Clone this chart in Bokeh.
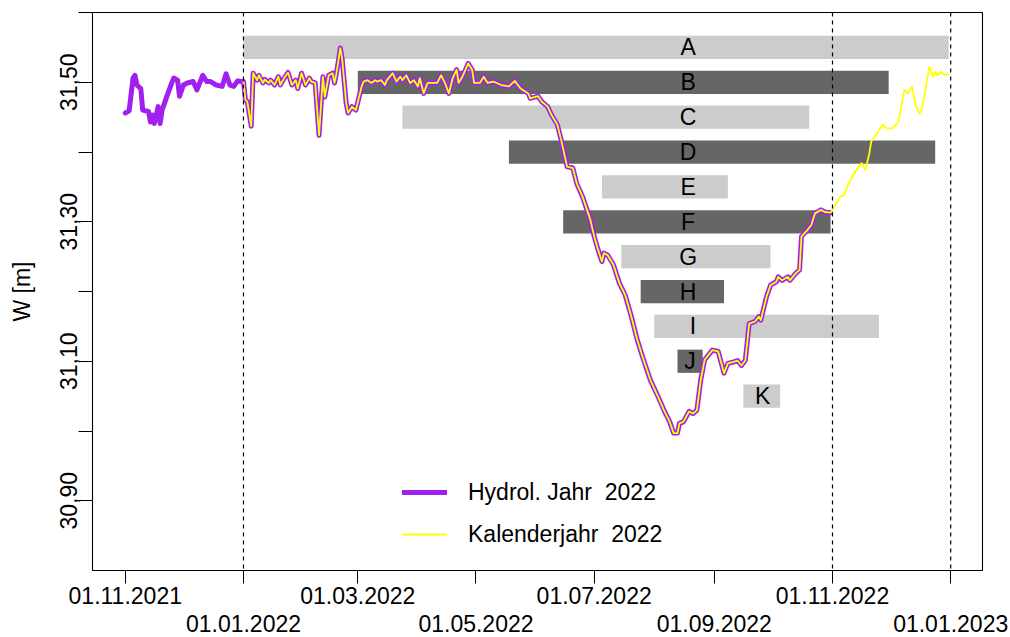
from datetime import datetime
import pandas as pd
from bokeh.plotting import figure
from bokeh.models import (ColumnDataSource, Range1d, FixedTicker, DatetimeAxis,
                          Span, Legend, LegendItem)
from bokeh.core.properties import value
from bokeh.embed import file_html
from bokeh.resources import INLINE

FONT = "Liberation Sans"

# ---------------- data ----------------
level_dates = [
    "2021-11-01", "2021-11-03", "2021-11-05", "2021-11-06", "2021-11-07", "2021-11-09",
    "2021-11-10", "2021-11-13", "2021-11-14", "2021-11-15", "2021-11-16", "2021-11-18",
    "2021-11-19", "2021-11-20", "2021-11-23", "2021-11-25", "2021-11-26", "2021-11-28",
    "2021-11-29", "2021-12-01", "2021-12-03", "2021-12-06", "2021-12-08", "2021-12-09",
    "2021-12-11", "2021-12-13", "2021-12-15", "2021-12-18", "2021-12-21", "2021-12-23",
    "2021-12-25", "2021-12-27", "2021-12-29", "2021-12-31",
    "2022-01-01", "2022-01-02", "2022-01-03", "2022-01-05", "2022-01-06", "2022-01-08",
    "2022-01-09", "2022-01-11", "2022-01-12", "2022-01-14", "2022-01-15", "2022-01-17",
    "2022-01-19", "2022-01-20", "2022-01-22", "2022-01-24", "2022-01-26", "2022-01-28",
    "2022-01-29", "2022-01-31", "2022-02-02", "2022-02-04", "2022-02-05", "2022-02-07",
    "2022-02-09", "2022-02-11", "2022-02-12", "2022-02-14", "2022-02-16", "2022-02-17",
    "2022-02-18", "2022-02-20", "2022-02-21", "2022-02-23", "2022-02-24", "2022-02-26",
    "2022-02-28", "2022-03-03", "2022-03-04", "2022-03-06", "2022-03-08", "2022-03-10",
    "2022-03-11", "2022-03-13", "2022-03-15", "2022-03-16", "2022-03-19", "2022-03-21",
    "2022-03-23", "2022-03-24", "2022-03-26", "2022-03-28", "2022-03-30", "2022-04-01",
    "2022-04-02", "2022-04-04", "2022-04-06", "2022-04-09", "2022-04-11", "2022-04-13",
    "2022-04-15", "2022-04-17", "2022-04-19", "2022-04-21", "2022-04-22", "2022-04-24",
    "2022-04-27", "2022-04-29", "2022-04-30", "2022-05-03", "2022-05-05", "2022-05-07",
    "2022-05-10", "2022-05-14", "2022-05-18", "2022-05-21", "2022-05-24", "2022-05-28",
    "2022-05-29", "2022-06-02", "2022-06-04", "2022-06-07", "2022-06-09", "2022-06-12",
    "2022-06-14", "2022-06-17", "2022-06-20", "2022-06-22", "2022-06-25", "2022-06-29",
    "2022-07-01", "2022-07-03", "2022-07-05", "2022-07-06", "2022-07-08", "2022-07-11",
    "2022-07-14", "2022-07-17", "2022-07-20", "2022-07-23", "2022-07-26", "2022-07-30",
    "2022-08-03", "2022-08-06", "2022-08-09", "2022-08-11", "2022-08-13", "2022-08-14",
    "2022-08-16", "2022-08-19", "2022-08-21", "2022-08-23", "2022-08-25", "2022-08-27",
    "2022-08-31", "2022-09-03", "2022-09-06", "2022-09-08", "2022-09-11", "2022-09-13",
    "2022-09-15", "2022-09-17", "2022-09-19", "2022-09-22", "2022-09-24", "2022-09-25",
    "2022-09-28", "2022-09-30", "2022-10-03", "2022-10-04", "2022-10-06", "2022-10-09",
    "2022-10-10", "2022-10-13", "2022-10-15", "2022-10-16", "2022-10-19", "2022-10-21",
    "2022-10-23", "2022-10-26", "2022-10-28", "2022-10-31",
    "2022-11-02", "2022-11-04", "2022-11-05", "2022-11-07", "2022-11-09", "2022-11-12",
    "2022-11-14", "2022-11-16", "2022-11-18", "2022-11-20", "2022-11-21", "2022-11-24",
    "2022-11-27", "2022-11-29", "2022-12-02", "2022-12-05", "2022-12-08", "2022-12-10",
    "2022-12-12", "2022-12-14", "2022-12-16", "2022-12-17", "2022-12-19", "2022-12-21",
    "2022-12-23", "2022-12-24", "2022-12-25", "2022-12-27", "2022-12-29", "2022-12-31",
]
level_values = [
    31.456, 31.459, 31.506, 31.510, 31.496, 31.491,
    31.460, 31.458, 31.443, 31.453, 31.441, 31.465,
    31.441, 31.460, 31.484, 31.499, 31.506, 31.503,
    31.480, 31.496, 31.499, 31.501, 31.489, 31.496,
    31.510, 31.501, 31.501, 31.496, 31.494, 31.512,
    31.496, 31.494, 31.502, 31.501,
    31.501, 31.475, 31.472, 31.437, 31.513, 31.503,
    31.510, 31.499, 31.504, 31.499, 31.503, 31.496,
    31.508, 31.496, 31.506, 31.514, 31.496, 31.503,
    31.491, 31.513, 31.496, 31.506, 31.501, 31.499,
    31.424, 31.508, 31.479, 31.510, 31.513, 31.499,
    31.513, 31.549, 31.532, 31.470, 31.456, 31.465,
    31.460, 31.494, 31.501, 31.503, 31.499, 31.503,
    31.501, 31.503, 31.496, 31.503, 31.513, 31.501,
    31.508, 31.503, 31.510, 31.499, 31.503, 31.494,
    31.506, 31.484, 31.499, 31.499, 31.499, 31.510,
    31.499, 31.484, 31.506, 31.518, 31.499, 31.508,
    31.527, 31.518, 31.499, 31.499, 31.508, 31.499,
    31.501, 31.496, 31.494, 31.502, 31.491, 31.484,
    31.477, 31.480, 31.472, 31.465, 31.453, 31.439,
    31.417, 31.379, 31.377, 31.355, 31.336, 31.303,
    31.279, 31.260, 31.243, 31.255, 31.252, 31.238,
    31.212, 31.195, 31.166, 31.133, 31.106, 31.073,
    31.049, 31.030, 31.013, 30.997, 30.997, 31.011,
    31.013, 31.028, 31.025, 31.030, 31.073, 31.102,
    31.116, 31.114, 31.083, 31.097, 31.099, 31.101,
    31.094, 31.101, 31.154, 31.157, 31.164, 31.159,
    31.193, 31.209, 31.214, 31.221, 31.216, 31.221,
    31.216, 31.226, 31.231, 31.279, 31.288, 31.295,
    31.312, 31.317, 31.314, 31.313,
    31.322, 31.331, 31.336, 31.338, 31.353, 31.369,
    31.377, 31.384, 31.374, 31.398, 31.415, 31.427,
    31.439, 31.434, 31.434, 31.443, 31.489, 31.484,
    31.494, 31.467, 31.455, 31.460, 31.489, 31.522,
    31.508, 31.515, 31.510, 31.515, 31.510, 31.512,
]

hydro_start, hydro_end = "2021-11-01", "2022-10-31"
cal_start, cal_end = "2022-01-01", "2022-12-31"
series_names = ["Hydrol. Jahr \u00a02022", "Kalenderjahr \u00a02022"]

bar_names = ["A", "B", "C", "D", "E", "F", "G", "H", "I", "J", "K"]
bar_start = ["2022-01-01", "2022-03-01", "2022-03-24", "2022-05-18", "2022-07-05",
             "2022-06-15", "2022-07-15", "2022-07-25", "2022-08-01", "2022-08-13",
             "2022-09-16"]
bar_end = ["2022-12-31", "2022-11-30", "2022-10-20", "2022-12-24", "2022-09-08",
           "2022-10-31", "2022-09-30", "2022-09-06", "2022-11-25", "2022-08-26",
           "2022-10-05"]
bar_level = [31.55, 31.50, 31.45, 31.40, 31.35, 31.30, 31.25, 31.20, 31.15, 31.10, 31.05]
bar_label_x = ["2022-08-18 12:00", "2022-08-18 12:00", "2022-08-18 12:00", "2022-08-18 12:00",
               "2022-08-18 12:00", "2022-08-18 12:00", "2022-08-18 12:00", "2022-08-18 12:00",
               "2022-08-21 00:00", "2022-08-19 12:00", "2022-09-26 00:00"]
bar_color = ["#CCCCCC", "#666666"] * 5 + ["#CCCCCC"]

vline_dates = ["2022-01-01", "2022-11-01", "2023-01-01"]

x_tick_dates = ["2021-11-01", "2022-01-01", "2022-03-01", "2022-05-01",
                "2022-07-01", "2022-09-01", "2022-11-01", "2023-01-01"]
x_tick_labels = ["01.11.2021", "01.01.2022", "01.03.2022", "01.05.2022",
                 "01.07.2022", "01.09.2022", "01.11.2022", "01.01.2023"]
y_ticks = [30.9, 31.0, 31.1, 31.2, 31.3, 31.4, 31.5, 31.6]
y_labelled = [30.9, 31.1, 31.3, 31.5]

# ---------------- build ----------------
df = pd.DataFrame({"date": pd.to_datetime(level_dates), "W": level_values})
hydro = df[(df.date >= hydro_start) & (df.date <= hydro_end)]
cal = df[(df.date >= cal_start) & (df.date <= cal_end)]

HALF = 1.0 / 60.0
bars = ColumnDataSource(dict(
    left=pd.to_datetime(bar_start),
    right=pd.to_datetime(bar_end),
    bottom=[v - HALF for v in bar_level],
    top=[v + HALF for v in bar_level],
    color=bar_color,
    name=bar_names,
    lx=pd.to_datetime(bar_label_x, format="%Y-%m-%d %H:%M"),
    y=bar_level,
))

def ms(s):
    return pd.Timestamp(s).value / 1e6

p = figure(width=1010, height=637, x_axis_type="datetime",
           output_backend="svg", toolbar_location=None,
           x_range=Range1d(ms("2021-10-15 02:00"), ms("2023-01-17 10:00")),
           y_range=Range1d(30.80, 31.60),
           min_border_left=92, min_border_right=28,
           min_border_top=12, min_border_bottom=67)
p.background_fill_color = "white"
p.border_fill_color = "white"
p.outline_line_color = "black"
p.outline_line_width = 1.1
p.outline_line_alpha = 1
p.xgrid.visible = False
p.ygrid.visible = False

p.quad(left="left", right="right", bottom="bottom", top="top",
       fill_color="color", line_color=None, source=bars)

r_h = p.line(hydro.date, hydro.W, line_color="#A020F0", line_width=5,
             line_join="round", line_cap="round")
r_c = p.line(cal.date, cal.W, line_color="#FFFF00", line_width=1.8,
             line_join="round")

p.text(x="lx", y="y", text="name", source=bars,
       text_align="center", text_baseline="middle",
       text_font=value(FONT), text_font_size="23px", text_color="black")

for d in vline_dates:
    p.add_layout(Span(location=ms(d), dimension="height", line_color="black",
                      line_width=1.2, line_dash="4 4"))

# x axis: two staggered rows
odd = x_tick_dates[0::2]
even = x_tick_dates[1::2]
xa = p.xaxis[0]
xa.ticker = FixedTicker(ticks=[ms(d) for d in x_tick_dates])
xa.major_label_overrides = {ms(d): (lab if d in odd else "")
                            for d, lab in zip(x_tick_dates, x_tick_labels)}
xa2 = DatetimeAxis(ticker=FixedTicker(ticks=[ms(d) for d in even]))
xa2.major_label_overrides = {ms(d): lab for d, lab in zip(x_tick_dates, x_tick_labels)
                             if d in even}
for ax in (xa, xa2):
    ax.major_label_text_font = FONT
    ax.major_label_text_font_size = "23px"
    ax.major_label_text_color = "black"
    ax.minor_tick_line_color = None
    ax.major_tick_in = 0
    ax.axis_line_color = None
xa.major_tick_out = 13
xa.major_tick_line_color = "black"
xa.major_label_standoff = 3
xa2.major_tick_out = 0
xa2.major_tick_line_color = None
xa2.major_label_standoff = 8
p.add_layout(xa2, "below")

ya = p.yaxis[0]
ya.ticker = FixedTicker(ticks=y_ticks)
ya.major_label_overrides = {t: (f"{t:.2f}".replace(".", ",") if t in y_labelled else "")
                            for t in y_ticks}
ya.major_label_orientation = "vertical"
ya.major_label_text_font = FONT
ya.major_label_text_font_size = "23px"
ya.major_label_text_color = "black"
ya.major_tick_out = 14
ya.major_tick_in = 0
ya.minor_tick_line_color = None
ya.axis_line_color = None
ya.major_label_standoff = 2
ya.axis_label = "W [m]"
ya.axis_label_text_font = FONT
ya.axis_label_text_font_size = "23px"
ya.axis_label_text_font_style = "normal"
ya.axis_label_text_color = "black"
ya.axis_label_standoff = 22

legend = Legend(items=[LegendItem(label=series_names[0], renderers=[r_h]),
                       LegendItem(label=series_names[1], renderers=[r_c])],
                location=(310, 21))
legend.label_text_font = FONT
legend.label_text_font_size = "23px"
legend.label_text_color = "black"
legend.glyph_width = 45
legend.glyph_height = 30
legend.label_height = 30
legend.label_standoff = 21
legend.spacing = 12
legend.padding = 0
legend.margin = 0
legend.border_line_alpha = 0
legend.background_fill_alpha = 0
p.add_layout(legend)

open("out.html", "w").write(file_html(p, INLINE))
